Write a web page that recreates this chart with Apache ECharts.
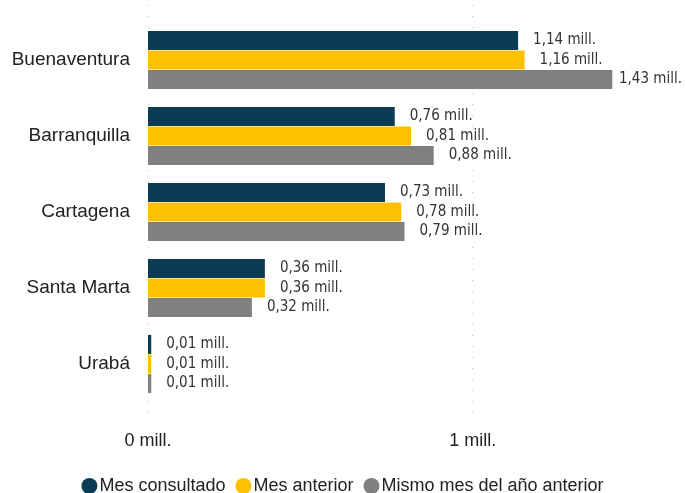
<!DOCTYPE html>
<html>
<head>
<meta charset="utf-8">
<script src="https://cdn.jsdelivr.net/npm/echarts@6/dist/echarts.min.js"></script>
<style>
  html, body { margin: 0; padding: 0; background: #fff; }
  #chart { width: 685px; height: 493px; }
</style>
</head>
<body>
<div id="chart"></div>
<script>
const categories = ['Buenaventura', 'Barranquilla', 'Cartagena', 'Santa Marta', 'Urabá'];
const mesConsultado = [1.14, 0.76, 0.73, 0.36, 0.01];
const mesAnterior = [1.16, 0.81, 0.78, 0.36, 0.01];
const mismoMesAnioAnterior = [1.43, 0.88, 0.79, 0.32, 0.01];
const gridValues = [0, 1];

const chart = echarts.init(document.getElementById('chart'));

const valueLabel = {
  show: true,
  position: 'right',
  distance: 15,
  color: '#333',
  fontFamily: 'DejaVu Sans Condensed',
  fontSize: 15,
  formatter: (p) => p.value.toFixed(2).replace('.', ',') + ' mill.'
};

// keep labels inside the canvas, like the original does for the longest bar
function keepInside(params) {
  const r = params.labelRect;
  const over = r.x + r.width - 682;
  return over > 0 ? { dx: -over } : {};
}

function barSeries(name, data, color) {
  return {
    name: name,
    type: 'bar',
    data: data,
    barWidth: 19,
    barGap: '3%',
    itemStyle: { color: color },
    label: valueLabel,
    labelLayout: keepInside
  };
}

chart.setOption({
  animation: false,
  backgroundColor: '#fff',
  textStyle: { fontFamily: 'Liberation Sans' },
  grid: [
    { left: 148, right: 50, top: 22, bottom: 91 },
    // taller grid that only carries the dotted vertical gridlines
    { left: 148, right: 50, top: 5, bottom: 71 }
  ],
  legend: {
    top: 472,
    left: 'center',
    icon: 'circle',
    itemWidth: 16,
    itemHeight: 16,
    itemGap: 10,
    textStyle: { color: '#222', fontSize: 18, padding: [0, 0, 0, -3] },
    data: ['Mes consultado', 'Mes anterior', 'Mismo mes del año anterior']
  },
  xAxis: [
    {
      type: 'value',
      min: 0,
      max: 1.5,
      interval: 1,
      axisLine: { show: false },
      axisTick: { show: false },
      splitLine: { show: false },
      axisLabel: {
        color: '#222',
        fontSize: 18,
        margin: 30,
        formatter: (v) => (gridValues.indexOf(v) >= 0 ? v + ' mill.' : '')
      }
    },
    {
      type: 'value',
      gridIndex: 1,
      min: 0,
      max: 1.5,
      interval: 1,
      axisLine: { show: false },
      axisTick: { show: false },
      axisLabel: { show: false },
      splitLine: {
        show: true,
        showMaxLine: false,
        lineStyle: { color: '#c4c4c4', type: [1, 10], width: 1 }
      }
    }
  ],
  yAxis: [
    {
      type: 'category',
      inverse: true,
      data: categories,
      axisLine: { show: false },
      axisTick: { show: false },
      axisLabel: { color: '#222', fontSize: 19, margin: 18 }
    },
    {
      type: 'value',
      gridIndex: 1,
      show: false
    }
  ],
  series: [
    barSeries('Mes consultado', mesConsultado, '#0b3c55'),
    barSeries('Mes anterior', mesAnterior, '#ffc000'),
    barSeries('Mismo mes del año anterior', mismoMesAnioAnterior, '#808080')
  ]
});
</script>
</body>
</html>
